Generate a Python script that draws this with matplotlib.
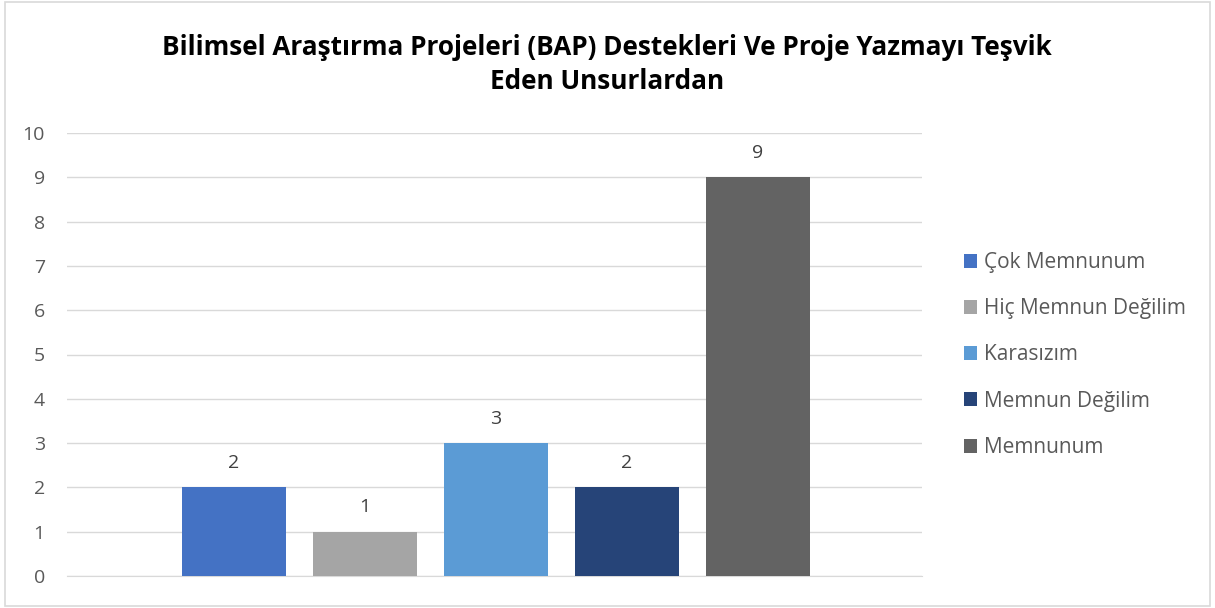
import matplotlib
matplotlib.use("Agg")
import matplotlib.pyplot as plt
from matplotlib.patches import Rectangle, Patch

categories = ["Çok Memnunum", "Hiç Memnun Değilim", "Karasızım", "Memnun Değilim", "Memnunum"]
values = [2, 1, 3, 2, 9]
colors = ["#4472C4", "#A5A5A5", "#5B9BD5", "#264478", "#636363"]
yticks = list(range(0, 11))
title = "Bilimsel Araştırma Projeleri (BAP) Destekleri Ve Proje Yazmayı Teşvik\nEden Unsurlardan"

plt.rcParams['font.family'] = ['Open Sans', 'DejaVu Sans']

W, H = 1215, 608
fig = plt.figure(figsize=(W/100, H/100), dpi=100)
fig.patches.append(Rectangle((5/W, 2/H), 1205/W, 604/H, transform=fig.transFigure,
                             fill=False, edgecolor="#D9D9D9", linewidth=1.2))

ax = fig.add_axes([67/W, 1-576/H, (922-67)/W, (576-133)/H])
x = list(range(len(categories)))
bars = ax.bar(x, values, width=0.794, color=colors, zorder=3)
for xi, v in zip(x, values):
    ax.annotate(str(v), (xi, v), xytext=(0, 11), textcoords="offset points",
                ha="center", va="bottom", fontsize=14, color="#404040")

ax.set_xlim(-1.275, 5.252)
ax.set_ylim(0, 10)
ax.set_yticks(yticks)
ax.set_xticks([])
ax.yaxis.grid(True, color="#D9D9D9", linewidth=1, zorder=0)
for s in ["top", "right", "left"]:
    ax.spines[s].set_visible(False)
ax.spines["bottom"].set_color("#D9D9D9")
ax.tick_params(axis="y", length=0, pad=16, labelsize=14, labelcolor="#595959")

handles = [Patch(facecolor=c) for c in colors]
fig.legend(handles, categories, loc="center left", bbox_to_anchor=(945/W, 1-355/H),
           frameon=False, fontsize=15, labelcolor="#595959", handlelength=0.65,
           handleheight=0.65, handletextpad=0.3, labelspacing=1.21)

fig.text(607/W, 1-64.5/H, title, ha="center", va="center", fontsize=18.8,
         fontweight="bold", color="black", linespacing=1.37)

fig.savefig("out.png", dpi=100)
